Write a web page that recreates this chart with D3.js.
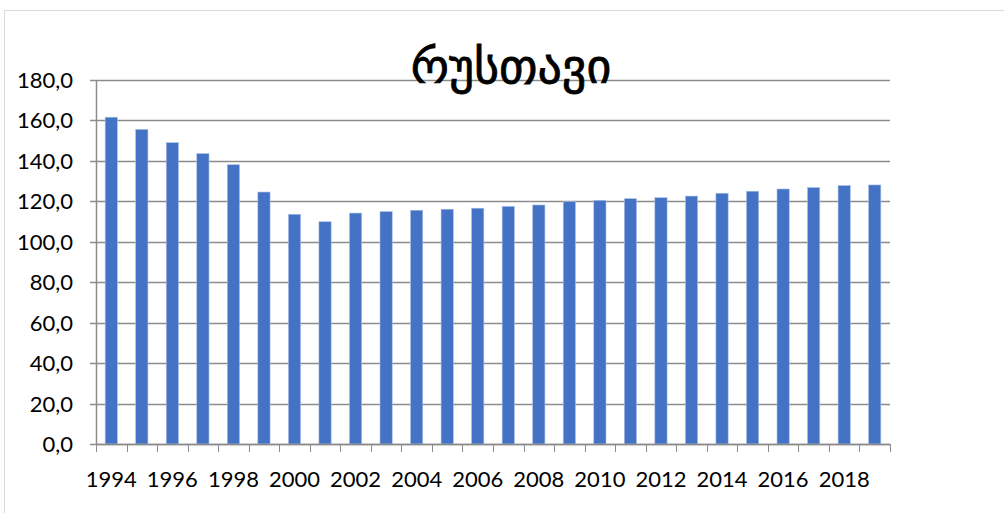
<!DOCTYPE html>
<html>
<head>
    <meta charset="utf-8">
    <title>რუსთავი</title>
    <script src="https://cdnjs.cloudflare.com/ajax/libs/d3/7.8.5/d3.min.js"></script>
    <style>
    body { margin:0; background:#fff; }
    svg text { font-family: Lato, "Liberation Sans", sans-serif; fill:#000; }
    </style>
</head>
<body>
<div class="chart"></div>
<script>
var years = d3.range(1994, 2020).map(String);
var values = [161.6, 155.6, 149.0, 143.6, 138.1, 124.6, 113.6, 109.9, 114.2, 114.9,
              115.6, 116.1, 116.6, 117.5, 118.2, 119.8, 120.5, 121.3, 121.8, 122.6,
              124.0, 125.0, 126.1, 126.8, 127.8, 128.1];
var yTicks = [0, 20, 40, 60, 80, 100, 120, 140, 160, 180];
var title = "რუსთავი";

var width = 1004, height = 513;
var plotLeft = 96, plotRight = 890, plotTop = 80, plotBottom = 444;

var svg = d3.select('.chart').append('svg')
    .attr('width', width)
    .attr('height', height);

// outer chart frame
svg.append('rect')
    .attr('x', 4.5).attr('y', 10.5)
    .attr('width', 1100).attr('height', 600)
    .attr('fill', 'none')
    .attr('stroke', '#d9d9d9');

var x = d3.scaleBand().domain(years).range([plotLeft, plotRight]).paddingInner(0.6).paddingOuter(0.3);
var y = d3.scaleLinear().domain([0, 180]).range([plotBottom, plotTop]);

// gridlines
svg.append('g').selectAll('line')
    .data(yTicks)
    .enter().append('line')
    .attr('x1', plotLeft - 6).attr('x2', plotRight)
    .attr('y1', function(d) { return Math.round(y(d)) + 0.5; })
    .attr('y2', function(d) { return Math.round(y(d)) + 0.5; })
    .attr('stroke', '#8c8c8c')
    .attr('stroke-width', 1.5);

// y labels
svg.append('g').selectAll('text')
    .data(yTicks)
    .enter().append('text')
    .attr('x', 73)
    .attr('y', function(d) { return y(d) + 8; })
    .attr('text-anchor', 'end')
    .style('font-size', '22px')
    .text(function(d) { return d3.format('.1f')(d).replace('.', ','); });

// bars
svg.append('g').selectAll('rect')
    .data(values)
    .enter().append('rect')
    .attr('x', function(d, i) { return x(years[i]); })
    .attr('y', function(d) { return y(d); })
    .attr('width', x.bandwidth())
    .attr('height', function(d) { return plotBottom - y(d); })
    .attr('fill', '#4472c4')
    .attr('stroke', '#a9bfe6')
    .attr('stroke-width', 0.6);

// y axis line
svg.append('line')
    .attr('x1', plotLeft + 0.5).attr('x2', plotLeft + 0.5)
    .attr('y1', plotTop).attr('y2', plotBottom)
    .attr('stroke', '#8c8c8c').attr('stroke-width', 1.5);

// x axis line and category ticks
svg.append('line')
    .attr('x1', plotLeft).attr('x2', plotRight)
    .attr('y1', plotBottom + 0.5).attr('y2', plotBottom + 0.5)
    .attr('stroke', '#8c8c8c').attr('stroke-width', 1.5);

var bounds = d3.range(years.length + 1).map(function(i) { return plotLeft + i * x.step(); });
svg.append('g').selectAll('line')
    .data(bounds)
    .enter().append('line')
    .attr('x1', function(d) { return Math.round(d) + 0.5; })
    .attr('x2', function(d) { return Math.round(d) + 0.5; })
    .attr('y1', plotBottom).attr('y2', plotBottom + 8)
    .attr('stroke', '#8c8c8c').attr('stroke-width', 1);

// x labels, every other year
svg.append('g').selectAll('text')
    .data(years.filter(function(d, i) { return i % 2 === 0; }))
    .enter().append('text')
    .attr('x', function(d) { return x(d) + x.bandwidth() / 2; })
    .attr('y', 487)
    .attr('text-anchor', 'middle')
    .style('font-size', '22px')
    .text(function(d) { return d; });

// title
svg.append('text')
    .attr('x', 511)
    .attr('y', 83)
    .attr('text-anchor', 'middle')
    .style('font-family', '"DejaVu Sans", sans-serif')
    .style('font-size', '48px')
    .style('stroke', '#000')
    .style('stroke-width', 0.8)
    .text(title);
</script>
</body>
</html>
